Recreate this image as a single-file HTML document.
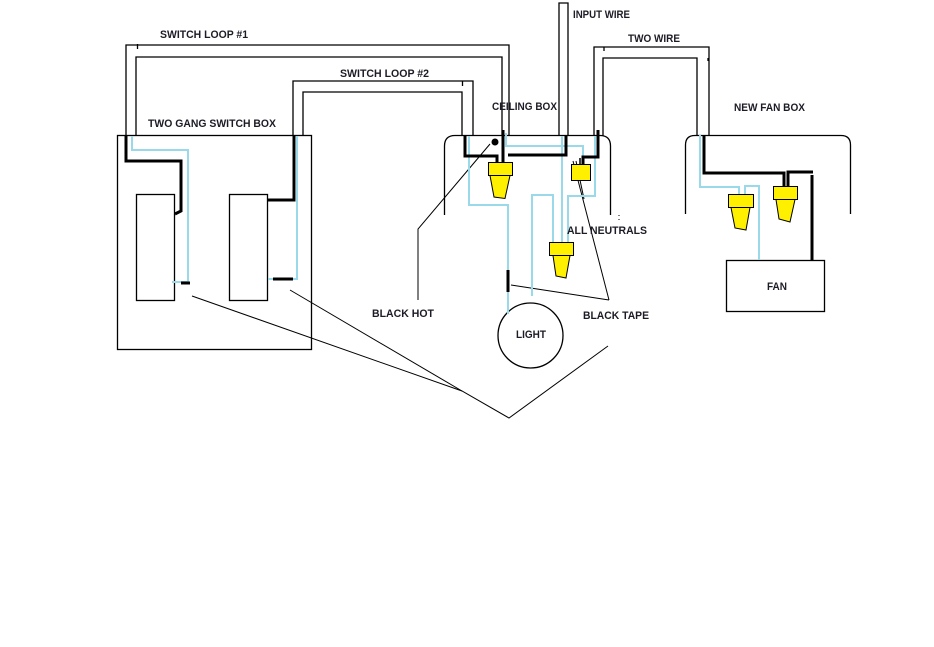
<!DOCTYPE html>
<html><head><meta charset="utf-8"><style>
html,body{margin:0;padding:0;background:#fff;}
svg{display:block;}
text{font-family:"Liberation Sans",Arial,sans-serif;font-weight:bold;font-size:11px;fill:#1c1c26;}
</style></head><body>
<svg width="934" height="647" viewBox="0 0 934 647" xmlns="http://www.w3.org/2000/svg">
<rect width="934" height="647" fill="#fff"/>
<!-- thin outlines -->
<g fill="none" stroke="#000" stroke-width="1.3">
 <polyline points="126,136 126,45 509,45 509,136"/>
 <polyline points="136,136 136,57 502,57 502,136"/>
 <polyline points="293,136 293,81 473,81 473,136"/>
 <polyline points="303,136 303,92 462,92 462,136"/>
 <polyline points="559,136 559,3 568,3 568,136"/>
 <polyline points="594,136 594,47 709,47 709,135"/>
 <polyline points="603,136 603,58 697,58 697,135"/>
 <rect x="117.5" y="135.5" width="194" height="214"/>
 <rect x="136.5" y="194.5" width="38" height="106"/>
 <rect x="229.5" y="194.5" width="38" height="106"/>
 <path d="M444.5,215 V146 Q444.5,135.5 455,135.5 H600 Q610.5,135.5 610.5,146 V215"/>
 <path d="M685.5,214 V145 Q685.5,135.5 695,135.5 H841 Q850.5,135.5 850.5,145 V214"/>
 <rect x="726.5" y="260.5" width="98" height="51"/>
 <circle cx="530.5" cy="335.5" r="32.5"/>
 <!-- ticks -->
 <line x1="137.5" y1="44" x2="137.5" y2="49"/>
 <line x1="462.5" y1="81" x2="462.5" y2="86"/>
 <line x1="604" y1="47" x2="604" y2="51"/>
 <line x1="708" y1="58" x2="708" y2="61"/>
</g>
<!-- pointer lines -->
<g fill="none" stroke="#000" stroke-width="1">
 <polyline points="192,296 462,391 509,418 608,346"/>
 <line x1="290" y1="290" x2="462" y2="391"/>
 <polyline points="490,144 418,229 418,300"/>
 <line x1="511" y1="285" x2="609" y2="300"/>
 <line x1="573" y1="161" x2="609" y2="300"/>
 <line x1="576" y1="161" x2="584" y2="199"/>
 <line x1="619" y1="215" x2="619" y2="216"/>
 <line x1="619" y1="219" x2="619" y2="220"/>
</g>
<!-- neutral (light blue) -->
<g fill="none" stroke="#99d9ea" stroke-width="2">
 <polyline points="132,136 132,150 188,150 188,282 172,282"/>
 <polyline points="297,136 297,279 268,279"/>
 <polyline points="469,136 469,205 508,205 508,270"/>
 <polyline points="508,292 508,314"/>
 <polyline points="506,133 506,146 583,146 583,164"/>
 <polyline points="562,136 562,242"/>
 <polyline points="595,136 595,196 568,196 568,242"/>
 <polyline points="532,296 532,195 553,195 553,242"/>
 <polyline points="700,135 700,187 739,187 739,194"/>
 <polyline points="745,194 745,186 759,186 759,260"/>
</g>
<!-- hot (thick black) -->
<g fill="none" stroke="#000" stroke-width="3">
 <polyline points="126,136 126,161 181,161 181,211 175,214"/>
 <line x1="181" y1="283" x2="190" y2="283"/>
 <polyline points="294,136 294,200 267,200"/>
 <line x1="273" y1="279" x2="293" y2="279"/>
 <polyline points="465,136 465,156 497,156 497,162"/>
 <line x1="503" y1="130" x2="503" y2="162"/>
 <polyline points="508,155 566,155 566,136"/>
 <polyline points="598,130 598,157 583,157 583,164"/>
 <line x1="508" y1="270" x2="508" y2="292"/>
 <polyline points="704,135 704,173 784,173 784,186"/>
 <polyline points="788,186 788,172 813,172"/>
 <line x1="812" y1="175" x2="812" y2="261"/>
</g>
<line x1="580" y1="158" x2="580" y2="164" stroke="#000" stroke-width="1.5"/>
<circle cx="495" cy="142" r="3.5" fill="#000"/>
<!-- wire nuts -->
<g fill="#fff000" stroke="#000" stroke-width="1">
 <rect x="488.5" y="162.5" width="24" height="13"/>
 <polygon points="490,175.5 494,197 505,198.5 510,175.5"/>
 <rect x="571.5" y="164.5" width="19" height="16"/>
 <rect x="549.5" y="242.5" width="24" height="13"/>
 <polygon points="553,255.5 556,276 566,278 570,255.5"/>
 <rect x="728.5" y="194.5" width="25" height="13"/>
 <polygon points="731,207.5 735,228 746,230 750,207.5"/>
 <rect x="773.5" y="186.5" width="24" height="13"/>
 <polygon points="776,199.5 779,219 790,222 795,199.5"/>
</g>
<!-- labels -->
<text x="160" y="38" textLength="88" lengthAdjust="spacingAndGlyphs">SWITCH LOOP #1</text>
<text x="148" y="127" textLength="128" lengthAdjust="spacingAndGlyphs">TWO GANG SWITCH BOX</text>
<text x="340" y="77" textLength="89" lengthAdjust="spacingAndGlyphs">SWITCH LOOP #2</text>
<text x="492" y="110" textLength="65" lengthAdjust="spacingAndGlyphs">CEILING BOX</text>
<text x="573" y="18" textLength="57" lengthAdjust="spacingAndGlyphs">INPUT WIRE</text>
<text x="628" y="42" textLength="52" lengthAdjust="spacingAndGlyphs">TWO WIRE</text>
<text x="734" y="111" textLength="71" lengthAdjust="spacingAndGlyphs">NEW FAN BOX</text>
<text x="567" y="234" textLength="80" lengthAdjust="spacingAndGlyphs">ALL NEUTRALS</text>
<text x="583" y="319" textLength="66" lengthAdjust="spacingAndGlyphs">BLACK TAPE</text>
<text x="516" y="338" textLength="30" lengthAdjust="spacingAndGlyphs">LIGHT</text>
<text x="372" y="317" textLength="62" lengthAdjust="spacingAndGlyphs">BLACK HOT</text>
<text x="767" y="290" textLength="20" lengthAdjust="spacingAndGlyphs">FAN</text>
</svg>
</body></html>
